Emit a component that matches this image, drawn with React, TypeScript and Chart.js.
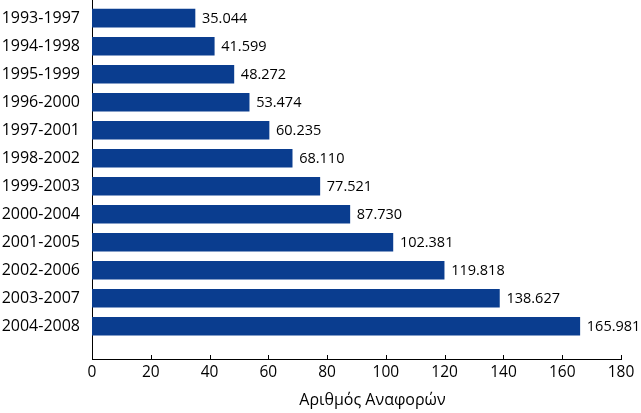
import React, { useEffect, useRef } from "react";
import { Chart, registerables } from "chart.js";

Chart.register(...registerables);

const periods = [
  "1993-1997",
  "1994-1998",
  "1995-1999",
  "1996-2000",
  "1997-2001",
  "1998-2002",
  "1999-2003",
  "2000-2004",
  "2001-2005",
  "2002-2006",
  "2003-2007",
  "2004-2008",
];
const references = [
  35.044, 41.599, 48.272, 53.474, 60.235, 68.11, 77.521, 87.73, 102.381,
  119.818, 138.627, 165.981,
];
const xTitle = "Αριθμός Αναφορών";
const xMin = 0;
const xMax = 180;
const xStep = 20;

const FONT = "'Open Sans', 'Noto Sans', sans-serif";

const extras = {
  id: "extras",
  afterDatasetsDraw(chart: any) {
    const ctx = chart.ctx;
    const meta = chart.getDatasetMeta(0);
    ctx.save();
    ctx.font = `14.5px ${FONT}`;
    ctx.fillStyle = "#000";
    ctx.textAlign = "left";
    ctx.textBaseline = "middle";
    meta.data.forEach((bar: any, i: number) => {
      ctx.fillText(references[i].toFixed(3), bar.x + 7, bar.y + 1);
    });
    ctx.restore();
  },
  afterDraw(chart: any) {
    const ctx = chart.ctx;
    const xs = chart.scales.x;
    const area = chart.chartArea;
    ctx.save();
    ctx.strokeStyle = "#000";
    ctx.lineWidth = 1;
    ctx.beginPath();
    xs.ticks.forEach((t: any) => {
      const px = Math.round(xs.getPixelForValue(t.value)) + 0.5;
      ctx.moveTo(px, area.bottom);
      ctx.lineTo(px, area.bottom - 4);
    });
    ctx.stroke();
    ctx.font = `16px ${FONT}`;
    ctx.fillStyle = "#000";
    ctx.textAlign = "center";
    ctx.textBaseline = "alphabetic";
    ctx.fillText(xTitle, (area.left + area.right) / 2 + 16, 405);
    ctx.restore();
  },
};

export default function App() {
  const ref = useRef<HTMLCanvasElement | null>(null);
  useEffect(() => {
    if (!ref.current) return;
    const chart = new Chart(ref.current, {
      type: "bar",
      data: {
        datasets: [
          {
            data: references.map((v, i) => ({ x: v, y: i })),
            backgroundColor: "#0a3d8f",
            borderWidth: 0,
            barThickness: 18,
          },
        ],
      },
      options: {
        indexAxis: "y",
        animation: false,
        responsive: false,
        maintainAspectRatio: false,
        layout: { padding: { left: 0, right: 20, top: 0, bottom: 0 } },
        plugins: {
          legend: { display: false },
          tooltip: { enabled: false },
          title: { display: false },
        },
        scales: {
          x: {
            type: "linear",
            min: xMin,
            max: xMax,
            ticks: {
              stepSize: xStep,
              color: "#000",
              font: { family: FONT, size: 15.5 },
              padding: 4,
              maxRotation: 0,
            },
            grid: { display: false, drawTicks: false },
            border: { display: true, color: "#000", width: 1 },
            afterFit: (s: any) => {
              s.height = 54;
              s.paddingLeft = 0;
              s.paddingRight = 0;
            },
          },
          y: {
            type: "linear",
            reverse: true,
            offset: false,
            min: -0.65,
            max: 12.17,
            afterBuildTicks: (s: any) => {
              s.ticks = periods.map((_, i) => ({ value: i }));
            },
            ticks: {
              color: "#000",
              font: { family: FONT, size: 16 },
              padding: 12,
              callback: (v: any) => periods[v as number] ?? "",
            },
            grid: { display: false, drawTicks: false },
            border: { display: true, color: "#000", width: 1 },
            afterFit: (s: any) => {
              s.width = 92;
              s.paddingTop = 0;
              s.paddingBottom = 0;
            },
          },
        },
      } as any,
      plugins: [extras],
    });
    return () => chart.destroy();
  }, []);
  return (
    <div style={{ position: "fixed", left: 0, top: 0, width: 641, height: 413, background: "#fff" }}>
      <canvas ref={ref} width={641} height={413} style={{ width: 641, height: 413 }} />
    </div>
  );
}
